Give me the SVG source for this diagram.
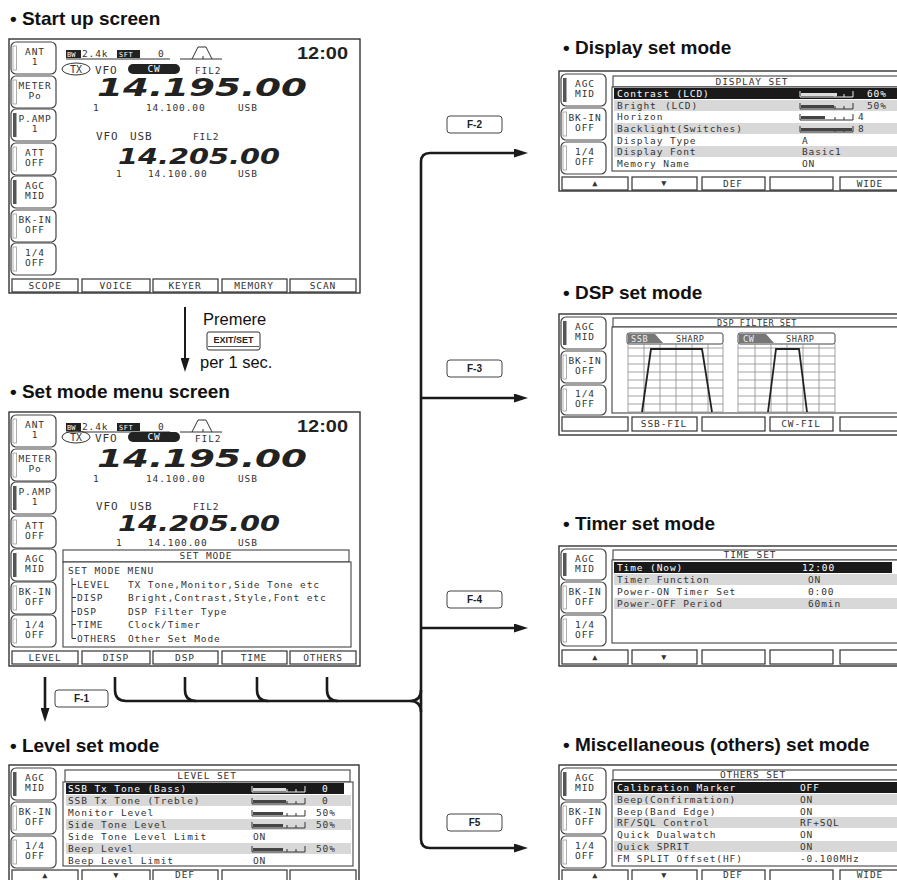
<svg xmlns="http://www.w3.org/2000/svg" width="897" height="880" viewBox="0 0 897 880">
<defs>
<style>
.hd{font-family:"Liberation Sans",Arial,sans-serif;font-weight:bold;font-size:19px;fill:#111}
.tx{font-family:"Liberation Sans",Arial,sans-serif;font-size:16.5px;fill:#111}
.fr{fill:#fff;stroke:#333;stroke-width:1.4}
.btn{fill:#fff;stroke:#444;stroke-width:1.2}
.son{fill:#555}
.soff{fill:#fff;stroke:#999;stroke-width:0.8}
.lcd{font-family:"DejaVu Sans Mono","Liberation Mono",monospace;font-size:9.5px;letter-spacing:0.9px;fill:#333}
.sm{font-size:8.5px;letter-spacing:0.6px}
.big{font-size:11px}
.c{text-anchor:middle}
.w{fill:#fff}
.seg{fill:#fff;stroke:#333;stroke-width:1.2}
.pnl{fill:#fff;stroke:#444;stroke-width:1.1}
.blk{fill:#1a1a1a}
.gry{fill:#d8d8d8}
.bf{fill:#444}
.bfw{fill:#ddd}
.fq{font-family:"DejaVu Sans",sans-serif;font-weight:bold;font-style:italic;fill:#222}
.cn{fill:none;stroke:#1a1a1a;stroke-width:2.6}
.fb{fill:#fff;stroke:#444;stroke-width:1}
.ft{font-family:"Liberation Sans",Arial,sans-serif;font-weight:bold;font-size:10px;fill:#222;text-anchor:middle}
.grid{stroke:#8a8a8a;stroke-width:0.8;fill:none}
.trap{stroke:#222;stroke-width:1.8;fill:none}
</style>
<marker id="ah" markerUnits="userSpaceOnUse" markerWidth="14" markerHeight="9" viewBox="0 0 14 9" refX="5" refY="4.5" orient="auto"><path d="M0 0 L14 4.5 L0 9 z" fill="#1a1a1a"/></marker>
<g id="bar"><path d="M0 3 V9 H53 V3 M35 9 V6 M44 9 V6" fill="none" stroke="#333" stroke-width="1"/></g>
<g id="barw"><path d="M0 3 V9 H53 V3 M35 9 V6 M44 9 V6" fill="none" stroke="#eee" stroke-width="1"/></g>
</defs>
<rect width="897" height="880" fill="#fff"/>

<!-- ===== Start up screen ===== -->
<g id="startup">
<text class="hd" x="10" y="25">• Start up screen</text>
<rect class="fr" x="9" y="39" width="351" height="254"/>
<rect class="btn" x="11" y="42" width="45" height="32" rx="5"/><rect class="soff" x="13" y="46" width="3.5" height="24"/>
<text class="lcd c" x="35" y="55">ANT</text><text class="lcd c" x="35" y="65">1</text>
<rect class="btn" x="11" y="76" width="45" height="32" rx="5"/><rect class="soff" x="13" y="80" width="3.5" height="24"/>
<text class="lcd c" x="35" y="89">METER</text><text class="lcd c" x="35" y="99">Po</text>
<rect class="btn" x="11" y="109" width="45" height="32" rx="5"/><rect class="son" x="13" y="113" width="3.5" height="24"/>
<text class="lcd c" x="35" y="122">P.AMP</text><text class="lcd c" x="35" y="132">1</text>
<rect class="btn" x="11" y="143" width="45" height="32" rx="5"/><rect class="soff" x="13" y="147" width="3.5" height="24"/>
<text class="lcd c" x="35" y="156">ATT</text><text class="lcd c" x="35" y="166">OFF</text>
<rect class="btn" x="11" y="176" width="45" height="32" rx="5"/><rect class="son" x="13" y="180" width="3.5" height="24"/>
<text class="lcd c" x="35" y="189">AGC</text><text class="lcd c" x="35" y="199">MID</text>
<rect class="btn" x="11" y="210" width="45" height="32" rx="5"/><rect class="soff" x="13" y="214" width="3.5" height="24"/>
<text class="lcd c" x="35" y="223">BK-IN</text><text class="lcd c" x="35" y="233">OFF</text>
<rect class="btn" x="11" y="243" width="45" height="32" rx="5"/><rect class="soff" x="13" y="247" width="3.5" height="24"/>
<text class="lcd c" x="35" y="256">1/4</text><text class="lcd c" x="35" y="266">OFF</text>
<rect x="66" y="50" width="15" height="8" fill="#222"/><text class="lcd w" x="67" y="57" style="font-size:7px;letter-spacing:0">BW</text>
<text class="lcd" x="82" y="57">2.4k</text>
<rect x="117" y="50" width="23" height="8" fill="#222"/><text class="lcd w" x="119" y="57" style="font-size:7px;letter-spacing:0.5px">SFT</text>
<text class="lcd" x="158" y="57">0</text>
<line x1="66" y1="59" x2="170" y2="59" stroke="#333"/>
<path d="M180 59 H222 M192 59 L198 47 H206 L212 59 M203 56 V59" stroke="#333" fill="none"/>
<text x="297" y="59" font-family="Liberation Sans, Arial, sans-serif" font-weight="bold" font-size="17" fill="#222" textLength="51" lengthAdjust="spacingAndGlyphs">12:00</text>
<ellipse cx="76" cy="69" rx="14" ry="6" fill="none" stroke="#333"/><text class="lcd c" x="76" y="73" style="font-size:10px;letter-spacing:0">TX</text>
<text class="lcd big" x="95" y="74">VFO</text>
<rect x="128" y="64" width="52" height="10" rx="5" fill="#222"/><text class="lcd c w" x="154" y="72">CW</text>
<text class="lcd" x="195" y="74">FIL2</text>
<text class="fq" x="97" y="96" font-size="24" textLength="210" lengthAdjust="spacingAndGlyphs">14.195.00</text>
<text class="lcd" x="93" y="111">1</text><text class="lcd" x="146" y="111">14.100.00</text><text class="lcd" x="238" y="111">USB</text>
<text class="lcd big" x="96" y="140">VFO</text><text class="lcd big" x="130" y="140">USB</text><text class="lcd" x="193" y="140">FIL2</text>
<text class="fq" x="118" y="164" font-size="21" textLength="162" lengthAdjust="spacingAndGlyphs">14.205.00</text>
<text class="lcd" x="116" y="177">1</text><text class="lcd" x="148" y="177">14.100.00</text><text class="lcd" x="238" y="177">USB</text>
<rect class="seg" x="12" y="279" width="66" height="13"/><rect class="seg" x="82" y="279" width="68" height="13"/><rect class="seg" x="153" y="279" width="65" height="13"/><rect class="seg" x="222" y="279" width="65" height="13"/><rect class="seg" x="290" y="279" width="66" height="13"/>
<text class="lcd c" x="45" y="289">SCOPE</text><text class="lcd c" x="116" y="289">VOICE</text><text class="lcd c" x="185" y="289">KEYER</text><text class="lcd c" x="254" y="289">MEMORY</text><text class="lcd c" x="323" y="289">SCAN</text>
</g>

<!-- ===== Set mode menu screen ===== -->
<g id="setmode">
<text class="hd" x="10" y="398">• Set mode menu screen</text>
<rect class="fr" x="9" y="412" width="351" height="254"/>
<rect class="btn" x="11" y="415" width="45" height="32" rx="5"/><rect class="soff" x="13" y="419" width="3.5" height="24"/>
<text class="lcd c" x="35" y="428">ANT</text><text class="lcd c" x="35" y="438">1</text>
<rect class="btn" x="11" y="449" width="45" height="32" rx="5"/><rect class="soff" x="13" y="453" width="3.5" height="24"/>
<text class="lcd c" x="35" y="462">METER</text><text class="lcd c" x="35" y="472">Po</text>
<rect class="btn" x="11" y="482" width="45" height="32" rx="5"/><rect class="son" x="13" y="486" width="3.5" height="24"/>
<text class="lcd c" x="35" y="495">P.AMP</text><text class="lcd c" x="35" y="505">1</text>
<rect class="btn" x="11" y="516" width="45" height="32" rx="5"/><rect class="soff" x="13" y="520" width="3.5" height="24"/>
<text class="lcd c" x="35" y="529">ATT</text><text class="lcd c" x="35" y="539">OFF</text>
<rect class="btn" x="11" y="549" width="45" height="32" rx="5"/><rect class="son" x="13" y="553" width="3.5" height="24"/>
<text class="lcd c" x="35" y="562">AGC</text><text class="lcd c" x="35" y="572">MID</text>
<rect class="btn" x="11" y="582" width="45" height="32" rx="5"/><rect class="soff" x="13" y="586" width="3.5" height="24"/>
<text class="lcd c" x="35" y="595">BK-IN</text><text class="lcd c" x="35" y="605">OFF</text>
<rect class="btn" x="11" y="615" width="45" height="32" rx="5"/><rect class="soff" x="13" y="619" width="3.5" height="24"/>
<text class="lcd c" x="35" y="628">1/4</text><text class="lcd c" x="35" y="638">OFF</text>
<rect x="66" y="423" width="15" height="8" fill="#222"/><text class="lcd w" x="67" y="430" style="font-size:7px;letter-spacing:0">BW</text>
<text class="lcd" x="82" y="430">2.4k</text>
<rect x="117" y="423" width="23" height="8" fill="#222"/><text class="lcd w" x="119" y="430" style="font-size:7px;letter-spacing:0.5px">SFT</text>
<text class="lcd" x="158" y="430">0</text>
<line x1="66" y1="432" x2="170" y2="432" stroke="#333"/>
<path d="M180 432 H222 M192 432 L198 420 H206 L212 432 M203 429 V432" stroke="#333" fill="none"/>
<text x="297" y="432" font-family="Liberation Sans, Arial, sans-serif" font-weight="bold" font-size="17" fill="#222" textLength="51" lengthAdjust="spacingAndGlyphs">12:00</text>
<ellipse cx="76" cy="437" rx="14" ry="6" fill="none" stroke="#333"/><text class="lcd c" x="76" y="441" style="font-size:10px;letter-spacing:0">TX</text>
<text class="lcd big" x="95" y="442">VFO</text>
<rect x="128" y="432" width="52" height="10" rx="5" fill="#222"/><text class="lcd c w" x="154" y="440">CW</text>
<text class="lcd" x="195" y="442">FIL2</text>
<text class="fq" x="97" y="467" font-size="24" textLength="210" lengthAdjust="spacingAndGlyphs">14.195.00</text>
<text class="lcd" x="93" y="482">1</text><text class="lcd" x="146" y="482">14.100.00</text><text class="lcd" x="238" y="482">USB</text>
<text class="lcd big" x="96" y="510">VFO</text><text class="lcd big" x="130" y="510">USB</text><text class="lcd" x="193" y="510">FIL2</text>
<text class="fq" x="118" y="531" font-size="21" textLength="162" lengthAdjust="spacingAndGlyphs">14.205.00</text>
<text class="lcd" x="116" y="546">1</text><text class="lcd" x="148" y="546">14.100.00</text><text class="lcd" x="238" y="546">USB</text>
<rect class="pnl" x="63" y="550" width="286" height="12"/>
<text class="lcd c" x="206" y="559">SET MODE</text>
<rect class="pnl" x="63" y="562" width="288" height="85"/>
<text class="lcd" x="68" y="574">SET MODE MENU</text>
<path d="M72 578 V638.5 M72 584.5 H76 M72 597.5 H76 M72 611.5 H76 M72 624.5 H76 M72 638.5 H76" stroke="#333" fill="none"/>
<text class="lcd" x="77" y="588">LEVEL</text><text class="lcd" x="128" y="588">TX Tone,Monitor,Side Tone etc</text>
<text class="lcd" x="77" y="601">DISP</text><text class="lcd" x="128" y="601">Bright,Contrast,Style,Font etc</text>
<text class="lcd" x="77" y="615">DSP</text><text class="lcd" x="128" y="615">DSP Filter Type</text>
<text class="lcd" x="77" y="628">TIME</text><text class="lcd" x="128" y="628">Clock/Timer</text>
<text class="lcd" x="77" y="642">OTHERS</text><text class="lcd" x="128" y="642">Other Set Mode</text>
<rect class="seg" x="12" y="651" width="66" height="13"/><rect class="seg" x="82" y="651" width="68" height="13"/><rect class="seg" x="153" y="651" width="65" height="13"/><rect class="seg" x="222" y="651" width="65" height="13"/><rect class="seg" x="290" y="651" width="66" height="13"/>
<text class="lcd c" x="45" y="661">LEVEL</text><text class="lcd c" x="116" y="661">DISP</text><text class="lcd c" x="185" y="661">DSP</text><text class="lcd c" x="254" y="661">TIME</text><text class="lcd c" x="323" y="661">OTHERS</text>
</g>

<!-- ===== Level set mode ===== -->
<g id="level">
<text class="hd" x="10" y="752">• Level set mode</text>
<rect class="fr" x="9" y="765" width="350" height="125"/>
<rect class="btn" x="11" y="768" width="45" height="32" rx="5"/><rect class="son" x="13" y="772" width="3.5" height="24"/>
<text class="lcd c" x="35" y="781">AGC</text><text class="lcd c" x="35" y="791">MID</text>
<rect class="btn" x="11" y="802" width="45" height="32" rx="5"/><rect class="soff" x="13" y="806" width="3.5" height="24"/>
<text class="lcd c" x="35" y="815">BK-IN</text><text class="lcd c" x="35" y="825">OFF</text>
<rect class="btn" x="11" y="836" width="45" height="32" rx="5"/><rect class="soff" x="13" y="840" width="3.5" height="24"/>
<text class="lcd c" x="35" y="849">1/4</text><text class="lcd c" x="35" y="859">OFF</text>
<rect class="pnl" x="65" y="770" width="285" height="12"/>
<text class="lcd c" x="207" y="779">LEVEL SET</text>
<rect class="pnl" x="63" y="782" width="290" height="84"/>
<rect class="blk" x="66" y="783" width="278" height="11"/>
<rect class="gry" x="66" y="795" width="285" height="11"/>
<rect class="gry" x="66" y="819" width="285" height="11"/>
<rect class="gry" x="66" y="843" width="285" height="11"/>
<text class="lcd w" x="68" y="792">SSB Tx Tone (Bass)</text>
<text class="lcd" x="68" y="804">SSB Tx Tone (Treble)</text>
<text class="lcd" x="68" y="816">Monitor Level</text>
<text class="lcd" x="68" y="828">Side Tone Level</text>
<text class="lcd" x="68" y="840">Side Tone Level Limit</text>
<text class="lcd" x="68" y="852">Beep Level</text>
<text class="lcd" x="68" y="864">Beep Level Limit</text>
<use href="#barw" x="252" y="783"/><rect class="bfw" x="253" y="788" width="33" height="3"/>
<use href="#bar" x="252" y="795"/><rect class="bf" x="253" y="800" width="33" height="3"/>
<use href="#bar" x="252" y="807"/><rect class="bf" x="253" y="812" width="30" height="3"/>
<use href="#bar" x="252" y="819"/><rect class="bf" x="253" y="824" width="30" height="3"/>
<use href="#bar" x="252" y="843"/><rect class="bf" x="253" y="848" width="30" height="3"/>
<text class="lcd w" x="322" y="792">0</text>
<text class="lcd" x="322" y="804">0</text>
<text class="lcd" x="316" y="816">50%</text>
<text class="lcd" x="316" y="828">50%</text>
<text class="lcd" x="253" y="840">ON</text>
<text class="lcd" x="316" y="852">50%</text>
<text class="lcd" x="253" y="864">ON</text>
<rect class="seg" x="12" y="870" width="66" height="13"/><rect class="seg" x="82" y="870" width="68" height="13"/><rect class="seg" x="153" y="870" width="65" height="13"/><rect class="seg" x="222" y="870" width="65" height="13"/><rect class="seg" x="290" y="870" width="66" height="13"/>
<text class="lcd c sm" x="45" y="878">▲</text><text class="lcd c sm" x="116" y="878">▼</text><text class="lcd c" x="185" y="878">DEF</text>
</g>

<!-- ===== Display set mode ===== -->
<g id="display">
<text class="hd" x="563" y="54">• Display set mode</text>
<rect class="fr" x="559" y="71" width="345" height="120"/>
<rect class="btn" x="561" y="74" width="45" height="32" rx="5"/><rect class="son" x="563" y="78" width="3.5" height="24"/>
<text class="lcd c" x="585" y="87">AGC</text><text class="lcd c" x="585" y="97">MID</text>
<rect class="btn" x="561" y="108" width="45" height="32" rx="5"/><rect class="soff" x="563" y="112" width="3.5" height="24"/>
<text class="lcd c" x="585" y="121">BK-IN</text><text class="lcd c" x="585" y="131">OFF</text>
<rect class="btn" x="561" y="142" width="45" height="32" rx="5"/><rect class="soff" x="563" y="146" width="3.5" height="24"/>
<text class="lcd c" x="585" y="155">1/4</text><text class="lcd c" x="585" y="165">OFF</text>
<rect class="pnl" x="613" y="76" width="300" height="11"/>
<text class="lcd c" x="752" y="85">DISPLAY SET</text>
<rect class="pnl" x="612" y="87" width="300" height="84"/>
<rect class="blk" x="614" y="88" width="290" height="11"/>
<rect class="gry" x="614" y="100" width="290" height="11"/>
<rect class="gry" x="614" y="123" width="290" height="11"/>
<rect class="gry" x="614" y="146" width="290" height="11"/>
<text class="lcd w" x="617" y="97">Contrast (LCD)</text>
<text class="lcd" x="617" y="109">Bright<tspan x="665">(LCD)</tspan></text>
<text class="lcd" x="617" y="120">Horizon</text>
<text class="lcd" x="617" y="132">Backlight(Switches)</text>
<text class="lcd" x="617" y="144">Display Type</text>
<text class="lcd" x="617" y="155">Display Font</text>
<text class="lcd" x="617" y="167">Memory Name</text>
<use href="#barw" x="800" y="88"/><rect class="bfw" x="801" y="93" width="36" height="3"/>
<use href="#bar" x="800" y="100"/><rect class="bf" x="801" y="105" width="33" height="3"/>
<use href="#bar" x="800" y="111"/><rect class="bf" x="801" y="116" width="24" height="3"/>
<use href="#bar" x="800" y="123"/><rect class="bf" x="801" y="128" width="51" height="3"/>
<text class="lcd w" x="867" y="97">60%</text>
<text class="lcd" x="867" y="109">50%</text>
<text class="lcd" x="858" y="120">4</text>
<text class="lcd" x="858" y="132">8</text>
<text class="lcd" x="802" y="144">A</text>
<text class="lcd" x="802" y="155">Basic1</text>
<text class="lcd" x="802" y="167">ON</text>
<rect class="seg" x="562" y="177" width="66" height="13"/><rect class="seg" x="632" y="177" width="65" height="13"/><rect class="seg" x="702" y="177" width="63" height="13"/><rect class="seg" x="770" y="177" width="63" height="13"/><rect class="seg" x="840" y="177" width="62" height="13"/>
<text class="lcd c sm" x="595" y="186">▲</text><text class="lcd c sm" x="664" y="186">▼</text><text class="lcd c" x="733" y="187">DEF</text><text class="lcd c" x="870" y="187">WIDE</text>
</g>

<!-- ===== DSP set mode ===== -->
<g id="dsp">
<text class="hd" x="563" y="299">• DSP set mode</text>
<rect class="fr" x="559" y="314" width="345" height="121"/>
<rect class="btn" x="561" y="317" width="45" height="32" rx="5"/><rect class="son" x="563" y="321" width="3.5" height="24"/>
<text class="lcd c" x="585" y="330">AGC</text><text class="lcd c" x="585" y="340">MID</text>
<rect class="btn" x="561" y="351" width="45" height="32" rx="5"/><rect class="soff" x="563" y="355" width="3.5" height="24"/>
<text class="lcd c" x="585" y="364">BK-IN</text><text class="lcd c" x="585" y="374">OFF</text>
<rect class="btn" x="561" y="385" width="45" height="30" rx="5"/><rect class="soff" x="563" y="389" width="3.5" height="22"/>
<text class="lcd c" x="585" y="397">1/4</text><text class="lcd c" x="585" y="407">OFF</text>
<rect class="pnl" x="613" y="318" width="300" height="9"/>
<text class="lcd c sm" x="757" y="326">DSP FILTER SET</text>
<rect class="pnl" x="612" y="327" width="300" height="86"/>
<rect x="627" y="333" width="96" height="11" rx="2" fill="#fff" stroke="#444"/>
<path d="M628 334 H655 L663 343 H628 Z" fill="#777"/>
<text class="lcd sm" x="631" y="342" style="fill:#eee">SSB</text>
<text class="lcd sm" x="676" y="342">SHARP</text>
<rect x="738" y="333" width="97" height="11" rx="2" fill="#fff" stroke="#444"/>
<path d="M739 334 H766 L774 343 H739 Z" fill="#777"/>
<text class="lcd sm" x="743" y="342" style="fill:#eee">CW</text>
<text class="lcd sm" x="786" y="342">SHARP</text>
<path class="grid" d="M628 344 V412 M644 344 V412 M660 344 V412 M676 344 V412 M692 344 V412 M708 344 V412 M723 344 V412 M628 348 H723 M628 356 H723 M628 364 H723 M628 372 H723 M628 380 H723 M628 388 H723 M628 396 H723 M628 404 H723 M628 412 H723"/>
<path class="grid" d="M738 344 V412 M755 344 V412 M771 344 V412 M787 344 V412 M803 344 V412 M819 344 V412 M835 344 V412 M738 348 H835 M738 356 H835 M738 364 H835 M738 372 H835 M738 380 H835 M738 388 H835 M738 396 H835 M738 404 H835 M738 412 H835"/>
<path class="trap" d="M642 412 L651 349 H702 L712 412"/>
<path class="trap" d="M768 412 L776 349 H799 L807 412"/>
<rect class="seg" x="562" y="417" width="66" height="14"/><rect class="seg" x="632" y="417" width="65" height="14"/><rect class="seg" x="702" y="417" width="63" height="14"/><rect class="seg" x="770" y="417" width="63" height="14"/><rect class="seg" x="840" y="417" width="62" height="14"/>
<text class="lcd c" x="664" y="427">SSB-FIL</text><text class="lcd c" x="801" y="427">CW-FIL</text>
</g>

<!-- ===== Timer set mode ===== -->
<g id="timer">
<text class="hd" x="563" y="530">• Timer set mode</text>
<rect class="fr" x="559" y="546" width="345" height="120"/>
<rect class="btn" x="561" y="549" width="45" height="31" rx="5"/><rect class="son" x="563" y="553" width="3.5" height="23"/>
<text class="lcd c" x="585" y="562">AGC</text><text class="lcd c" x="585" y="572">MID</text>
<rect class="btn" x="561" y="582" width="45" height="31" rx="5"/><rect class="soff" x="563" y="586" width="3.5" height="23"/>
<text class="lcd c" x="585" y="595">BK-IN</text><text class="lcd c" x="585" y="605">OFF</text>
<rect class="btn" x="561" y="615" width="45" height="31" rx="5"/><rect class="soff" x="563" y="619" width="3.5" height="23"/>
<text class="lcd c" x="585" y="628">1/4</text><text class="lcd c" x="585" y="638">OFF</text>
<rect class="pnl" x="613" y="550" width="300" height="10"/>
<text class="lcd c" x="750" y="558">TIME SET</text>
<rect class="pnl" x="612" y="560" width="300" height="83"/>
<rect class="blk" x="614" y="562" width="278" height="11"/>
<rect class="gry" x="614" y="574" width="290" height="11"/>
<rect class="gry" x="614" y="598" width="290" height="11"/>
<text class="lcd w" x="617" y="571">Time (Now)</text>
<text class="lcd" x="617" y="583">Timer Function</text>
<text class="lcd" x="617" y="595">Power-ON Timer Set</text>
<text class="lcd" x="617" y="607">Power-OFF Period</text>
<text class="lcd w" x="802" y="571">12:00</text>
<text class="lcd" x="808" y="583">ON</text>
<text class="lcd" x="808" y="595">0:00</text>
<text class="lcd" x="808" y="607">60min</text>
<rect class="seg" x="562" y="650" width="66" height="14"/><rect class="seg" x="632" y="650" width="65" height="14"/><rect class="seg" x="702" y="650" width="63" height="14"/><rect class="seg" x="770" y="650" width="63" height="14"/><rect class="seg" x="840" y="650" width="62" height="14"/>
<text class="lcd c sm" x="595" y="660">▲</text><text class="lcd c sm" x="664" y="660">▼</text>
</g>

<!-- ===== Miscellaneous set mode ===== -->
<g id="others">
<text class="hd" x="563" y="751">• Miscellaneous (others) set mode</text>
<rect class="fr" x="559" y="765" width="345" height="125"/>
<rect class="btn" x="561" y="768" width="45" height="32" rx="5"/><rect class="son" x="563" y="772" width="3.5" height="24"/>
<text class="lcd c" x="585" y="781">AGC</text><text class="lcd c" x="585" y="791">MID</text>
<rect class="btn" x="561" y="802" width="45" height="32" rx="5"/><rect class="soff" x="563" y="806" width="3.5" height="24"/>
<text class="lcd c" x="585" y="815">BK-IN</text><text class="lcd c" x="585" y="825">OFF</text>
<rect class="btn" x="561" y="836" width="45" height="32" rx="5"/><rect class="soff" x="563" y="840" width="3.5" height="24"/>
<text class="lcd c" x="585" y="849">1/4</text><text class="lcd c" x="585" y="859">OFF</text>
<rect class="pnl" x="613" y="770" width="300" height="10"/>
<text class="lcd c" x="753" y="778">OTHERS SET</text>
<rect class="pnl" x="612" y="780" width="300" height="86"/>
<rect class="blk" x="614" y="782" width="290" height="11"/>
<rect class="gry" x="614" y="794" width="290" height="11"/>
<rect class="gry" x="614" y="817" width="290" height="11"/>
<rect class="gry" x="614" y="841" width="290" height="11"/>
<text class="lcd w" x="617" y="791">Calibration Marker</text>
<text class="lcd" x="617" y="803">Beep(Confirmation)</text>
<text class="lcd" x="617" y="815">Beep(Band Edge)</text>
<text class="lcd" x="617" y="826">RF/SQL Control</text>
<text class="lcd" x="617" y="838">Quick Dualwatch</text>
<text class="lcd" x="617" y="850">Quick SPRIT</text>
<text class="lcd" x="617" y="862">FM SPLIT Offset(HF)</text>
<text class="lcd w" x="800" y="791">OFF</text>
<text class="lcd" x="800" y="803">ON</text>
<text class="lcd" x="800" y="815">ON</text>
<text class="lcd" x="800" y="826">RF+SQL</text>
<text class="lcd" x="800" y="838">ON</text>
<text class="lcd" x="800" y="850">ON</text>
<text class="lcd" x="800" y="862">-0.100MHz</text>
<rect class="seg" x="562" y="870" width="66" height="13"/><rect class="seg" x="632" y="870" width="65" height="13"/><rect class="seg" x="702" y="870" width="63" height="13"/><rect class="seg" x="770" y="870" width="63" height="13"/><rect class="seg" x="840" y="870" width="62" height="13"/>
<text class="lcd c sm" x="595" y="878">▲</text><text class="lcd c sm" x="664" y="878">▼</text><text class="lcd c" x="733" y="878">DEF</text><text class="lcd c" x="870" y="878">WIDE</text>
</g>

<!-- ===== Connectors ===== -->
<g id="connectors">
<path d="M185 307 V363" fill="none" stroke="#1a1a1a" stroke-width="2" marker-end="url(#ah)"/>
<text class="tx" x="203" y="325">Premere</text>
<rect x="207" y="332" width="53" height="18" rx="2" fill="#fff" stroke="#333" stroke-width="1"/>
<line x1="208" y1="346.5" x2="259" y2="346.5" stroke="#333" stroke-width="0.8"/>
<text x="233.5" y="343" font-family="Liberation Sans, Arial, sans-serif" font-weight="bold" font-size="9" fill="#222" text-anchor="middle">EXIT/SET</text>
<text class="tx" x="200" y="368">per 1 sec.</text>

<path class="cn" d="M45 677 V713" marker-end="url(#ah)"/>
<rect class="fb" x="55" y="690" width="53" height="17" rx="3"/><text class="ft" x="81.5" y="702">F-1</text>

<path class="cn" d="M115 677 V690 Q115 701 126 701 H410 Q421 701 421 690 M410 701 Q421 701 421 712"/>
<path class="cn" d="M185 677 V690 Q185 701 196 701"/>
<path class="cn" d="M257 677 V690 Q257 701 268 701"/>
<path class="cn" d="M327 677 V690 Q327 701 338 701"/>
<path class="cn" d="M421 700 V162 Q421 153 430 153 H519" marker-end="url(#ah)"/>
<path class="cn" d="M421 700 V839 Q421 848 430 848 H519" marker-end="url(#ah)"/>
<path class="cn" d="M421 398 H519" marker-end="url(#ah)"/>
<path class="cn" d="M421 628 H519" marker-end="url(#ah)"/>

<rect class="fb" x="447" y="116" width="55" height="17" rx="3"/><text class="ft" x="474.5" y="128">F-2</text>
<rect class="fb" x="447" y="360" width="55" height="17" rx="3"/><text class="ft" x="474.5" y="372">F-3</text>
<rect class="fb" x="447" y="591" width="55" height="17" rx="3"/><text class="ft" x="474.5" y="603">F-4</text>
<rect class="fb" x="447" y="814" width="55" height="17" rx="3"/><text class="ft" x="474.5" y="826">F5</text>
</g>
</svg>
